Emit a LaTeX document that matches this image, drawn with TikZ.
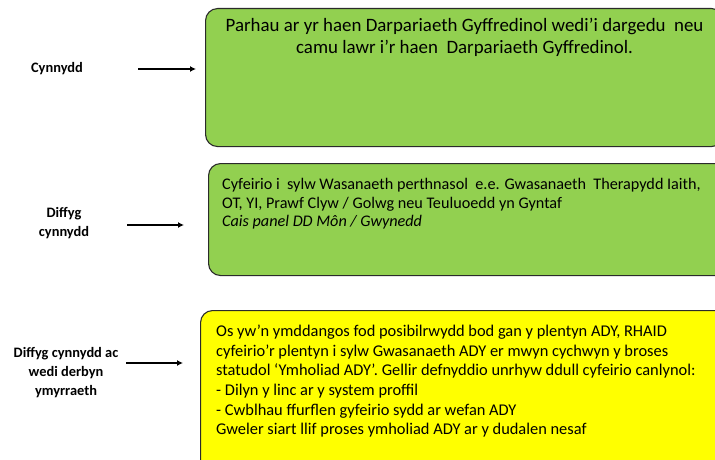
\documentclass[tikz,border=0pt]{standalone}
\usepackage{fontspec}
\setmainfont{Carlito}
\usetikzlibrary{positioning,arrows.meta}

\definecolor{boxgreen}{HTML}{92D050}
\definecolor{boxyellow}{HTML}{FFFF00}
\definecolor{boxline}{HTML}{2A2A2A}

\begin{document}
\begin{tikzpicture}[
				x=1pt, y=-1pt,
				box/.style={draw=boxline, line width=1.1pt, rounded corners=12pt, inner sep=0pt, anchor=north west},
				lbl/.style={font=\fontsize{14.4}{19}\selectfont\bfseries, align=center, inner sep=0pt},
				arr/.style={-{Latex[length=6pt, width=6pt]}, line width=1.6pt}
			]

			\useasboundingbox (0,0) rectangle (715,460);
			\clip (0,0) rectangle (715,460);

			% boxes
			\node[box, fill=boxgreen, minimum width=518, minimum height=138] (b1) at (205,8) {};
			\node[box, fill=boxgreen, minimum width=530, minimum height=112] (b2) at (208,163) {};
			\node[box, fill=boxyellow, minimum width=540, minimum height=170] (b3) at (200,310) {};

			% box texts
			\node[below=10pt of b1.north, align=center, inner sep=0pt,
				font=\fontsize{18.9}{22}\selectfont] (t1)
				{Parhau ar yr haen Darpariaeth Gyffredinol wedi’i dargedu \ neu\\
				camu lawr i’r haen \ Darpariaeth Gyffredinol.};

			\node[below right=15pt and 14pt of b2.north west, anchor=north west, align=left, inner sep=0pt,
				font=\fontsize{16.2}{18.7}\selectfont] (t2)
				{Cyfeirio i \ sylw Wasanaeth perthnasol \ e.e. Gwasanaeth \ Therapydd Iaith,\\
				OT, YI, Prawf Clyw / Golwg neu Teuluoedd yn Gyntaf\\
				\textit{Cais panel DD Môn / Gwynedd}};

			\node[below right=15pt and 16pt of b3.north west, anchor=north west, align=left, inner sep=0pt,
				font=\fontsize{16.4}{19.6}\selectfont] (t3)
				{Os yw’n ymddangos fod posibilrwydd bod gan y plentyn ADY, RHAID\\
				cyfeirio’r plentyn i sylw Gwasanaeth ADY er mwyn cychwyn y broses\\
				statudol ‘Ymholiad ADY’. Gellir defnyddio unrhyw ddull cyfeirio canlynol:\\
				- Dilyn y linc ar y system proffil\\
				- Cwblhau ffurflen gyfeirio sydd ar wefan ADY\\
				Gweler siart llif proses ymholiad ADY ar y dudalen nesaf};

			% labels
			\node[lbl] (l1) at (57,69) {Cynnydd};
			\node[lbl] (l2) at (64,223) {Diffyg\\cynnydd};
			\node[lbl] (l3) at (66,373) {Diffyg cynnydd ac\\wedi derbyn\\ymyrraeth};

			% arrows
			\coordinate (s1) at (138,69);
			\coordinate (s2) at (127,225);
			\coordinate (s3) at (126,363);

			\draw[arr, shorten >=9pt] (s1) -- (s1 -| b1.west);
			\draw[arr, shorten >=24pt] (s2) -- (s2 -| b2.west);
			\draw[arr, shorten >=17pt] (s3) -- (s3 -| b3.west);

		\end{tikzpicture}
\end{document}
